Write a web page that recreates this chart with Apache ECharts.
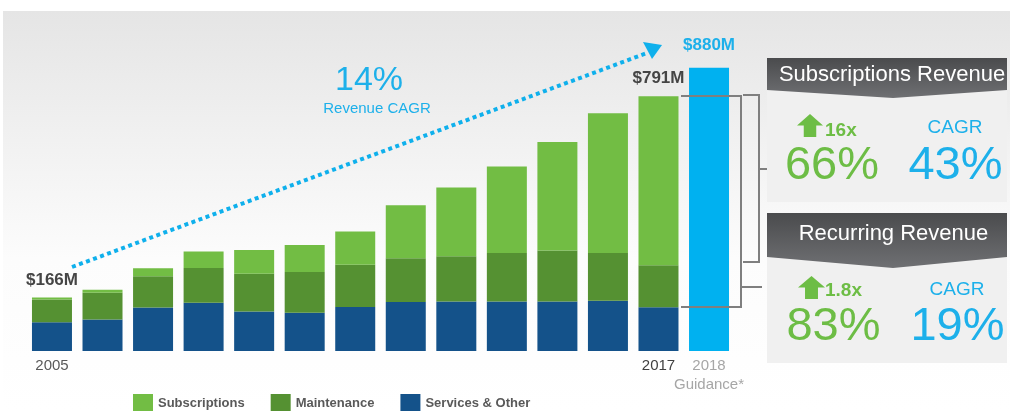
<!DOCTYPE html>
<html>
<head>
<meta charset="utf-8">
<script src="https://cdn.jsdelivr.net/npm/echarts@6/dist/echarts.min.js"></script>
<style>
html,body{margin:0;padding:0;background:#fff;}
#c{width:1010px;height:411px;}
</style>
</head>
<body>
<div id="c"></div>
<script>
// ---- data ----
const categories = ['2005','2006','2007','2008','2009','2010','2011','2012','2013','2014','2015','2016','2017','2018'];
const tickLabels = ['2005','','','','','','','','','','','','2017','2018\nGuidance*'];
const subscriptions = [6, 9, 25, 51, 74, 84, 103, 165, 214, 269, 337, 434, 525, null];
const maintenance   = [71, 83, 97, 108, 117, 126, 131, 136, 140, 150, 158, 148, 130, null];
const services      = [89, 98, 135, 150, 123, 119, 137, 152, 154, 154, 154, 156, 136, null];
const guidance      = [null, null, null, null, null, null, null, null, null, null, null, null, null, 880];
const totalLabels   = ['$166M','','','','','','','','','','','','$791M',''];
const guidanceLabel = '$880M';
const seriesNames = ['Subscriptions','Maintenance','Services & Other'];

const FONT = '"Liberation Sans", Arial, sans-serif';
const GREEN = '#6dbd45';
const BLUE = '#1db0ea';

const chart = echarts.init(document.getElementById('c'), null, {renderer:'canvas'});

const headerGrad = {type:'linear', x:0, y:0, x2:0, y2:1, colorStops:[{offset:0,color:'#4a4b4d'},{offset:1,color:'#6f7073'}]};

function upArrow(x, y, w, h) {
  const hh = h * 0.5, sw = w * 0.24;
  const cx = x + w / 2;
  return [[x, y + hh], [cx, y], [x + w, y + hh], [cx + sw, y + hh], [cx + sw, y + h], [cx - sw, y + h], [cx - sw, y + hh]];
}

const option = {
  animation: false,
  textStyle: {fontFamily: FONT},
  grid: {left: 26.7, right: 275.7, top: 29, bottom: 60},
  legend: {
    data: seriesNames,
    left: 128, top: 389,
    itemWidth: 20, itemHeight: 18, itemGap: 26,
    icon: 'rect',
    textStyle: {fontFamily: FONT, fontSize: 13, fontWeight: 'bold', color: '#595959', padding: [4, 0, 0, 0]}
  },
  xAxis: {
    type: 'category',
    data: categories,
    axisLine: {show: false},
    axisTick: {show: false},
    axisLabel: {
      interval: 0,
      margin: 6,
      fontFamily: FONT,
      formatter: function (v, i) {
        const t = tickLabels[i];
        if (!t) return '';
        if (i === 0) return '{a|' + t + '}';
        if (i === 12) return '{b|' + t + '}';
        return t.split('\n').map(s => '{g|' + s + '}').join('\n');
      },
      rich: {
        a: {fontSize: 15, color: '#595959', fontFamily: FONT, lineHeight: 18},
        b: {fontSize: 15, color: '#404040', fontFamily: FONT, lineHeight: 18},
        g: {fontSize: 15, color: '#a6a6a6', fontFamily: FONT, lineHeight: 18.5}
      }
    }
  },
  yAxis: {type: 'value', min: 0, max: 1000, show: false},
  series: [
    {name: 'Services & Other', type: 'bar', stack: 'rev', barWidth: 40, data: services, itemStyle: {color: '#14528a'}},
    {name: 'Maintenance', type: 'bar', stack: 'rev', barWidth: 40, data: maintenance, itemStyle: {color: '#559132'}},
    {name: 'Subscriptions', type: 'bar', stack: 'rev', barWidth: 40, data: subscriptions, itemStyle: {color: '#72bd44'},
      label: {show: true, position: 'top', distance: 9, fontFamily: FONT, fontSize: 17, fontWeight: 'bold', color: '#454545',
        formatter: p => totalLabels[p.dataIndex] || ''}},
    {name: 'Guidance', type: 'bar', stack: 'rev', barWidth: 40, data: guidance, itemStyle: {color: '#00b1f0'},
      label: {show: true, position: 'top', distance: 14, fontFamily: FONT, fontSize: 17, fontWeight: 'bold', color: '#1db0ea',
        formatter: () => guidanceLabel}}
  ],
  graphic: [
    // background
    {type: 'rect', z: -10, silent: true, shape: {x: 3, y: 11, width: 1007, height: 400},
      style: {fill: {type:'linear', x:0, y:0, x2:0, y2:1, colorStops:[{offset:0,color:'#e5e5e5'},{offset:0.62,color:'#fcfcfc'},{offset:1,color:'#ffffff'}]}}},
    // CAGR arrow
    {type: 'polyline', z: 50, shape: {points: [[72, 267], [647, 53]]},
      style: {stroke: '#0fb0ec', lineWidth: 4, lineDash: [4, 3.5], fill: null}},
    {type: 'polygon', z: 50, shape: {points: [[662, 45], [643, 42], [652, 59]]}, style: {fill: '#0fb0ec'}},
    {type: 'text', z: 50, style: {x: 369, y: 81, text: '14%', font: '34px ' + FONT, fill: BLUE, align: 'center', verticalAlign: 'middle'}},
    {type: 'text', z: 50, style: {x: 377, y: 109, text: 'Revenue CAGR', font: '15px ' + FONT, fill: BLUE, align: 'center', verticalAlign: 'middle'}},
    // brackets
    {type: 'polyline', z: 100, shape: {points: [[681, 96], [741, 96], [741, 307], [681, 307]]}, style: {stroke: '#7f7f7f', lineWidth: 2, fill: null}},
    {type: 'polyline', z: 100, shape: {points: [[741, 287], [762, 287]]}, style: {stroke: '#7f7f7f', lineWidth: 2}},
    {type: 'polyline', z: 100, shape: {points: [[743, 95], [759, 95], [759, 262], [743, 262]]}, style: {stroke: '#7f7f7f', lineWidth: 2, fill: null}},
    {type: 'polyline', z: 100, shape: {points: [[759, 169], [767, 169]]}, style: {stroke: '#7f7f7f', lineWidth: 2}},
    // panel 1
    {type: 'rect', z: 10, shape: {x: 767, y: 58, width: 240, height: 144}, style: {fill: '#f0f0f0'}},
    {type: 'polygon', z: 11, shape: {points: [[767, 58], [1007, 58], [1007, 90], [893, 98], [767, 90]]}, style: {fill: headerGrad}},
    {type: 'text', z: 12, style: {x: 892, y: 75, text: 'Subscriptions Revenue', font: '22px ' + FONT, fill: '#ffffff', align: 'center', verticalAlign: 'middle'}},
    {type: 'polygon', z: 12, shape: {points: upArrow(797, 114, 26, 23)}, style: {fill: GREEN}},
    {type: 'text', z: 12, style: {x: 825, y: 131, text: '16x', font: 'bold 19px ' + FONT, fill: GREEN, align: 'left', verticalAlign: 'middle'}},
    {type: 'text', z: 12, style: {x: 832, y: 166, text: '66%', font: '47px ' + FONT, fill: GREEN, align: 'center', verticalAlign: 'middle'}},
    {type: 'text', z: 12, style: {x: 955, y: 128, text: 'CAGR', font: '19px ' + FONT, fill: BLUE, align: 'center', verticalAlign: 'middle'}},
    {type: 'text', z: 12, style: {x: 955.5, y: 166, text: '43%', font: '47px ' + FONT, fill: BLUE, align: 'center', verticalAlign: 'middle'}},
    // panel 2
    {type: 'rect', z: 10, shape: {x: 767, y: 213, width: 240, height: 150}, style: {fill: '#f0f0f0'}},
    {type: 'polygon', z: 11, shape: {points: [[767, 213], [1007, 213], [1007, 257], [893, 268], [767, 257]]}, style: {fill: headerGrad}},
    {type: 'text', z: 12, style: {x: 893.5, y: 234, text: 'Recurring Revenue', font: '22px ' + FONT, fill: '#ffffff', align: 'center', verticalAlign: 'middle'}},
    {type: 'polygon', z: 12, shape: {points: upArrow(798, 276, 27, 23)}, style: {fill: GREEN}},
    {type: 'text', z: 12, style: {x: 825, y: 291, text: '1.8x', font: 'bold 19px ' + FONT, fill: GREEN, align: 'left', verticalAlign: 'middle'}},
    {type: 'text', z: 12, style: {x: 833.5, y: 327, text: '83%', font: '47px ' + FONT, fill: GREEN, align: 'center', verticalAlign: 'middle'}},
    {type: 'text', z: 12, style: {x: 957, y: 290, text: 'CAGR', font: '19px ' + FONT, fill: BLUE, align: 'center', verticalAlign: 'middle'}},
    {type: 'text', z: 12, style: {x: 957.5, y: 327, text: '19%', font: '47px ' + FONT, fill: BLUE, align: 'center', verticalAlign: 'middle'}}
  ]
};

chart.setOption(option);
</script>
</body>
</html>
